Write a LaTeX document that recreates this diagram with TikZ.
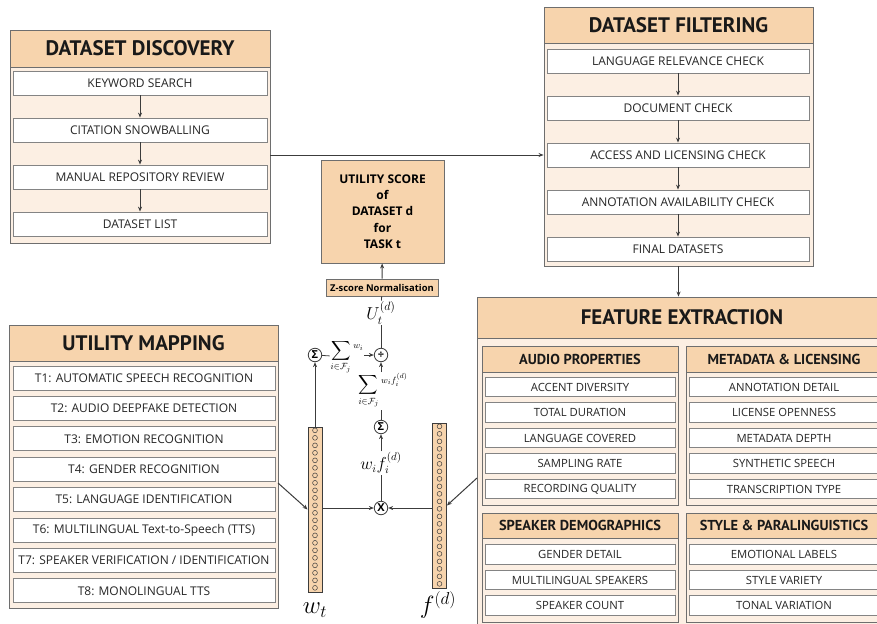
\documentclass[tikz,border=0pt]{standalone}
\usepackage{amsmath, amssymb}
\usepackage{fontspec}
\setmainfont{Open Sans}
\newfontfamily\headfont{PT Sans}
\usetikzlibrary{arrows.meta, positioning, calc}

\definecolor{headpeach}{HTML}{F7D4AD}
\definecolor{panelbg}{HTML}{FCEFE3}
\definecolor{framegray}{HTML}{6E6E6E}
\definecolor{linegray}{HTML}{3C3C3C}

\tikzset{
  panel/.style={draw=framegray, fill=panelbg, line width=0.9pt, inner sep=0pt},
  headbox/.style={draw=framegray, fill=headpeach, line width=0.9pt, inner sep=0pt,
    font=\headfont\bfseries\fontsize{21}{24}\selectfont, text=black!90},
  subhead/.style={headbox, font=\headfont\bfseries\fontsize{14.4}{16}\selectfont},
  stepitem/.style={draw=framegray!85, fill=white, line width=0.8pt, minimum height=24pt,
    minimum width=#1, inner sep=0pt, font=\fontsize{12}{14}\selectfont, text=black!85},
  stepitem/.default=254pt,
  featitem/.style={stepitem=190pt, minimum height=19.5pt, font=\fontsize{11.3}{13}\selectfont},
  opnode/.style={circle, draw=linegray, fill=white, line width=0.8pt, inner sep=0pt,
    minimum size=13.5pt, font=\bfseries\fontsize{11}{11}\selectfont},
  flow/.style={draw=linegray, line width=1pt, -{Stealth[length=5pt, width=4pt]}},
  link/.style={draw=linegray, line width=0.8pt},
  vecbar/.style={draw=linegray, fill=headpeach, line width=0.8pt, minimum width=14pt,
    minimum height=165pt, inner sep=0pt},
  mathlab/.style={inner sep=1pt, font=\fontsize{#1}{#1}\selectfont},
}

\begin{document}
\begin{tikzpicture}[x=1pt, y=-1pt]
  \path[use as bounding box] (0,0) rectangle (877,623);
  \clip (0,0) rectangle (877,623);

  % dataset discovery
  \node[panel, minimum width=260pt, minimum height=213pt] (discpanel) at (140,136.5) {};
  \node[headbox, minimum width=260pt, minimum height=37pt] (dischead) at (140,48.5) {DATASET DISCOVERY};
  \node[stepitem] (keyword) at (140,83) {KEYWORD SEARCH};
  \node[stepitem, below=22.2pt of keyword] (citation) {CITATION SNOWBALLING};
  \node[stepitem, below=22.2pt of citation] (manual) {MANUAL REPOSITORY REVIEW};
  \node[stepitem, below=22.2pt of manual] (dslist) {DATASET LIST};
  \draw[flow] (keyword) -- (citation);
  \draw[flow] (citation) -- (manual);
  \draw[flow] (manual) -- (dslist);

  % dataset filtering
  \node[panel, minimum width=269pt, minimum height=259pt] (filtpanel) at (678.5,136.5) {};
  \node[headbox, minimum width=269pt, minimum height=36pt] (filthead) at (678.5,25) {DATASET FILTERING};
  \node[stepitem=262pt] (langcheck) at (678,61) {LANGUAGE RELEVANCE CHECK};
  \node[stepitem=262pt, below=22.2pt of langcheck] (doccheck) {DOCUMENT CHECK};
  \node[stepitem=262pt, below=22.2pt of doccheck] (access) {ACCESS AND LICENSING CHECK};
  \node[stepitem=262pt, below=22.2pt of access] (annot) {ANNOTATION AVAILABILITY CHECK};
  \node[stepitem=262pt, below=22.2pt of annot] (final) {FINAL DATASETS};
  \draw[flow] (langcheck) -- (doccheck);
  \draw[flow] (doccheck) -- (access);
  \draw[flow] (access) -- (annot);
  \draw[flow] (annot) -- (final);

  \draw[flow] (discpanel.east |- access) -- (filtpanel.west |- access);

  % utility mapping
  \node[panel, minimum width=269pt, minimum height=283pt] (mappanel) at (143.5,466.5) {};
  \node[headbox, minimum width=269pt, minimum height=36pt] (maphead) at (143.5,343) {UTILITY MAPPING};
  \node[stepitem=262pt] (t1) at (144,378) {T1: AUTOMATIC SPEECH RECOGNITION};
  \node[stepitem=262pt, below=5.6pt of t1] (t2) {T2: AUDIO DEEPFAKE DETECTION};
  \node[stepitem=262pt, below=5.6pt of t2] (t3) {T3: EMOTION RECOGNITION};
  \node[stepitem=262pt, below=5.6pt of t3] (t4) {T4: GENDER RECOGNITION};
  \node[stepitem=262pt, below=5.6pt of t4] (t5) {T5: LANGUAGE IDENTIFICATION};
  \node[stepitem=262pt, below=5.6pt of t5] (t6) {T6: MULTILINGUAL Text-to-Speech (TTS)};
  \node[stepitem=262pt, below=5.6pt of t6] (t7) {T7: SPEAKER VERIFICATION / IDENTIFICATION};
  \node[stepitem=262pt, below=5.6pt of t7] (t8) {T8: MONOLINGUAL TTS};

  % feature extraction
  \node[panel, minimum width=410pt, minimum height=330pt] (feat) at (682,462) {};
  \node[headbox, minimum width=410pt, minimum height=41pt] (feathead) at (682,317.5) {FEATURE EXTRACTION};
  \draw[flow] (filtpanel.south) -- (filtpanel.south |- feat.north);

  \node[panel, minimum width=196pt, minimum height=159pt] (audiopanel) at (580,425.5) {};
  \node[subhead, minimum width=196pt, minimum height=26pt] (audiohead) at (580,359) {AUDIO PROPERTIES};
  \node[featitem] (accent) at (580,387) {ACCENT DIVERSITY};
  \node[featitem, below=5.2pt of accent] (duration) {TOTAL DURATION};
  \node[featitem, below=5.2pt of duration] (langcov) {LANGUAGE COVERED};
  \node[featitem, below=5.2pt of langcov] (srate) {SAMPLING RATE};
  \node[featitem, below=5.2pt of srate] (recq) {RECORDING QUALITY};

  \node[panel, minimum width=196pt, minimum height=159pt] (metapanel) at (784,425.5) {};
  \node[subhead, minimum width=196pt, minimum height=26pt] (metahead) at (784,359) {METADATA \& LICENSING};
  \node[featitem] (annodet) at (784,387) {ANNOTATION DETAIL};
  \node[featitem, below=5.2pt of annodet] (licopen) {LICENSE OPENNESS};
  \node[featitem, below=5.2pt of licopen] (metadepth) {METADATA DEPTH};
  \node[featitem, below=5.2pt of metadepth] (synth) {SYNTHETIC SPEECH};
  \node[featitem, below=5.2pt of synth] (transc) {TRANSCRIPTION TYPE};

  \node[panel, minimum width=196pt, minimum height=109pt] (spkpanel) at (580,567.5) {};
  \node[subhead, minimum width=196pt, minimum height=25pt] (spkhead) at (580,525.5) {SPEAKER DEMOGRAPHICS};
  \node[featitem] (gender) at (580,554.5) {GENDER DETAIL};
  \node[featitem, below=5.2pt of gender] (multispk) {MULTILINGUAL SPEAKERS};
  \node[featitem, below=5.2pt of multispk] (spkcount) {SPEAKER COUNT};

  \node[panel, minimum width=196pt, minimum height=109pt] (stylepanel) at (784,567.5) {};
  \node[subhead, minimum width=196pt, minimum height=25pt] (stylehead) at (784,525.5) {STYLE \& PARALINGUISTICS};
  \node[featitem] (emolab) at (784,554.5) {EMOTIONAL LABELS};
  \node[featitem, below=5.2pt of emolab] (stylevar) {STYLE VARIETY};
  \node[featitem, below=5.2pt of stylevar] (tonal) {TONAL VARIATION};

  % utility score
  \node[draw=framegray, fill=headpeach, line width=0.9pt, minimum width=123pt, minimum height=103pt,
        align=center, font=\bfseries\fontsize{12}{16.3}\selectfont] (uscore) at (382.5,211.5)
        {UTILITY SCORE\\of\\DATASET d\\for\\TASK t};
  \node[draw=framegray, fill=headpeach, line width=0.9pt, minimum width=112pt, minimum height=17pt,
        inner sep=0pt, font=\bfseries\fontsize{9.4}{10}\selectfont] (zscore) at (382,287.5)
        {Z-score Normalisation};

  % weight and feature vectors
  \node[vecbar] (wbar) at (315,509.5) {};
  \node[vecbar] (fbar) at (439.5,505.5) {};
  \foreach \k in {0,...,21} {
    \draw[linegray, line width=0.5pt] ($(wbar.north)+(0,3.75+7.5*\k)$) circle (2.4pt);
    \draw[linegray, line width=0.5pt] ($(fbar.north)+(0,3.75+7.5*\k)$) circle (2.4pt);
  }
  \node[mathlab=24] (wlab) at (315,610) {$w_t$};
  \node[mathlab=24] (flab) at (438,605) {$f^{(d)}$};

  % aggregation
  \node[opnode] (mult) at (381,508) {X};
  \node[opnode] (psum) at (381,427) {Σ};
  \node[opnode] (div) at (381,355) {÷};
  \node[opnode] (lsum) at (315,355) {Σ};
  \node[mathlab=16] (wflab) at (381,463) {$w_if_i^{(d)}$};
  \node[mathlab=13.5] (sumwf) at (383,391) {$\displaystyle\sum_{i\in\mathcal{F}_j}\raisebox{0.4em}{$\scriptstyle w_if_i^{(d)}$}$};
  \node[mathlab=13.5] (sumw) at (347,357) {$\displaystyle\sum_{i\in\mathcal{F}_j}\raisebox{0.4em}{$\scriptstyle w_i$}$};
  \node[mathlab=18] (ulab) at (381,313) {$U_t^{(d)}$};

  \coordinate (mapout) at (278,483);
  \coordinate (featout) at (477,478);
  \draw[flow] (mapout) -- (wbar.west);
  \draw[flow] (featout) -- (fbar.east);
  \draw[flow] (wbar.east |- mult) -- (mult);
  \draw[flow] (fbar.west |- mult) -- (mult);
  \draw[link] (mult) -- (wflab);
  \draw[flow] (wflab) -- (psum);
  \draw[link] (psum) -- (psum |- sumwf.south);
  \draw[flow] (div |- sumwf.north) -- (div);
  \draw[flow] (wbar.north) -- (lsum);
  \draw[link] (lsum) -- (sumw);
  \draw[flow] (sumw.east |- div) -- (div);
  \draw[link] (div) -- (ulab);
  \draw[link] (ulab) -- (zscore);
  \draw[flow] (zscore) -- (uscore);
\end{tikzpicture}
\end{document}
